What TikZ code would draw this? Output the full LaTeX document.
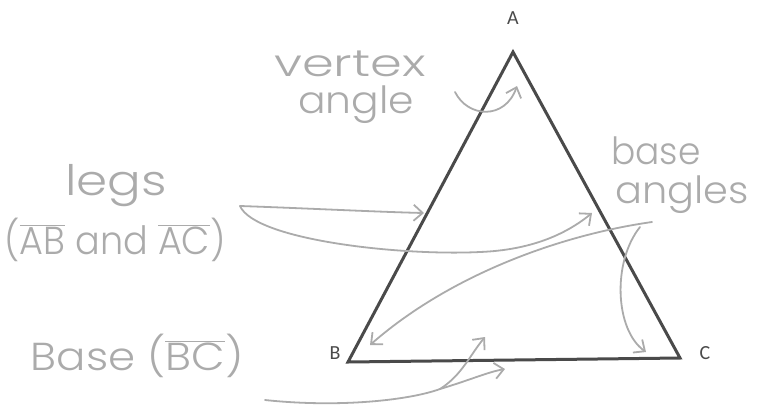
\documentclass[tikz,border=0pt]{standalone}
\usepackage{graphicx}
\usepackage{fontspec}
\setmainfont{Carlito}
\newfontfamily\hand{Poppins Light}
\usetikzlibrary{arrows.meta}
\definecolor{tricol}{HTML}{4A4A4A}
\definecolor{pencol}{HTML}{ABABAB}
\begin{document}
\begin{tikzpicture}[x=1pt,y=-1pt,
  tri/.style={draw=tricol,line width=3pt,line join=miter},
  pen/.style={draw=pencol,line width=1.8pt,line cap=round},
  pentip/.style={pen,-{Straight Barb[length=9pt,width=16pt,line width=1.8pt]}},
  handtxt/.style={text=pencol,font=\hand\fontsize{30}{30}\selectfont,inner sep=0pt},
  vlabel/.style={text=tricol,font=\fontsize{20}{20}\selectfont,inner sep=0pt}]
\useasboundingbox (0,0) rectangle (759,410);
% triangle
\coordinate (A) at (513,52);
\coordinate (B) at (348,362);
\coordinate (C) at (680,358);
\draw[tri] (A) -- (B) -- (C) -- cycle;
\node[vlabel] (la) at (513,18) {A};
\node[vlabel] (lb) at (335,353) {B};
\node[vlabel] (lc) at (705,353) {C};
% texts
\node[handtxt] (vertex) at (350,64) {\scalebox{1.7}[1.25]{vertex}};
\node[handtxt] (angle) at (356,105) {\scalebox{1.36}[1.25]{angle}};
\node[handtxt,font=\hand\fontsize{40}{40}\selectfont] (legs) at (116,186) {\scalebox{1.25}[1.05]{legs}};
\node[handtxt] (legsab) at (115,240) {\scalebox{1.22}[1.3]{($\overline{\mbox{AB}}$ and $\overline{\mbox{AC}}$)}};
\node[handtxt] (base) at (656,151) {\scalebox{1.2}[1.25]{base}};
\node[handtxt] (angles) at (682,195) {\scalebox{1.33}[1.25]{angles}};
\node[handtxt] (basebc) at (137,356) {\scalebox{1.45}[1.3]{Base ($\overline{\mbox{BC}}$)}};
% annotation points
\coordinate (vaS) at (455,92);
\coordinate (vaT) at (517,86);
\coordinate (lgS) at (240,206);
\coordinate (lgT1) at (424,213);
\coordinate (lgT2) at (592,213);
\coordinate (baS) at (652,222);
\coordinate (baT1) at (370,345);
\coordinate (baS2) at (640,227);
\coordinate (baT2) at (646,352);
\coordinate (bsS) at (265,400);
\coordinate (bsM) at (440,389);
\coordinate (bsT1) at (485,337);
\coordinate (bsT2) at (505,369);
% arrows
\draw[pentip] (vaS) .. controls (468,118) and (505,120) .. (vaT);
\draw[pentip] (lgS) .. controls (300,208) and (380,212) .. (lgT1);
\draw[pentip] (lgS) .. controls (255,240) and (400,256) .. (480,252) .. controls (530,250) and (565,235) .. (lgT2);
\draw[pentip] (baS) .. controls (560,235) and (450,275) .. (baT1);
\draw[pentip] (baS2) .. controls (612,262) and (615,330) .. (baT2);
\draw[pen] (bsS) .. controls (340,408) and (410,400) .. (bsM);
\draw[pentip] (bsM) .. controls (462,375) and (470,355) .. (bsT1);
\draw[pentip] (bsM) .. controls (470,380) and (488,372) .. (bsT2);
\end{tikzpicture}
\end{document}
